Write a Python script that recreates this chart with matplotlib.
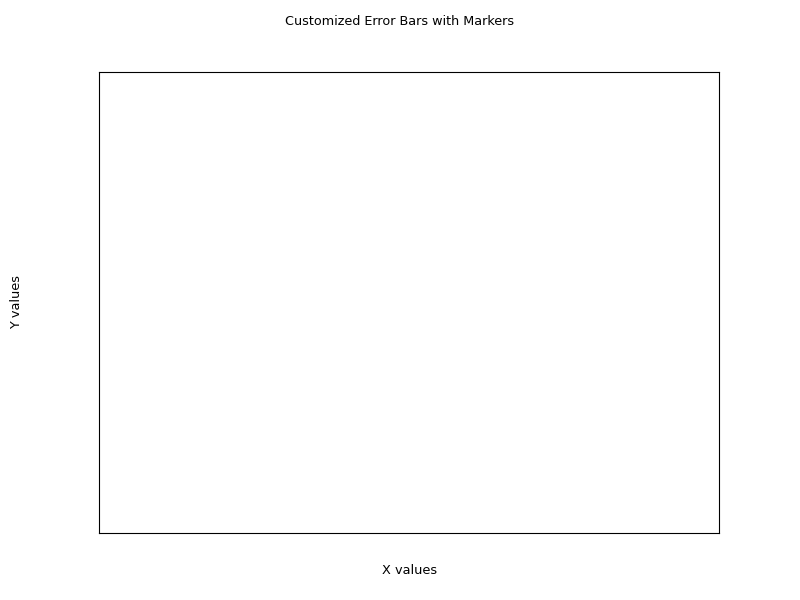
import matplotlib
matplotlib.use("Agg")
import matplotlib.pyplot as plt

# ------------------------------
# Chart text (the reference shows an empty frame, no visible marks)
# ------------------------------
TITLE = "Customized Error Bars with Markers"
X_LABEL = "X values"
Y_LABEL = "Y values"

fig, ax = plt.subplots(figsize=(8, 6), dpi=100)
fig.subplots_adjust(left=0.124, right=0.899, bottom=0.112, top=0.88)

fig.suptitle(TITLE, fontsize=9.2, y=0.975)

# no ticks at all, labels pushed out to where the tick labels would have been
ax.set_xticks([])
ax.set_yticks([])
ax.set_xlabel(X_LABEL, fontsize=9.3, labelpad=22.5)
ax.set_ylabel(Y_LABEL, fontsize=9.3, labelpad=54.5)

fig.savefig("out.png", dpi=100)
